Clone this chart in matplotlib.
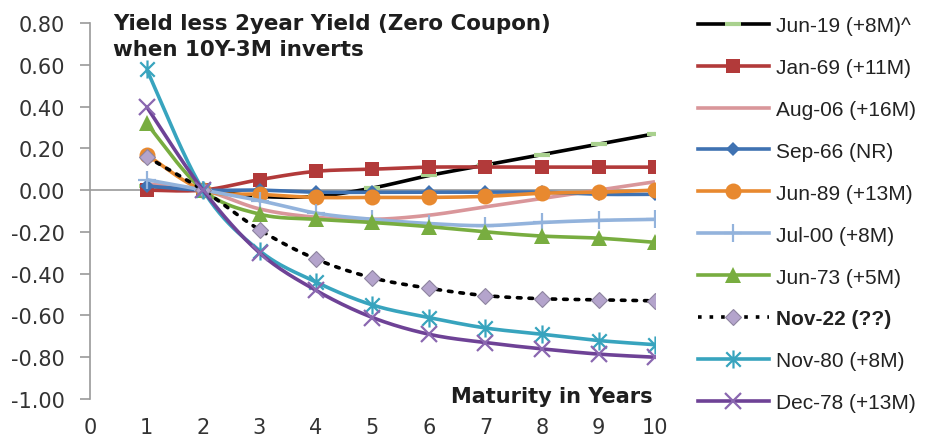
import numpy as np
import matplotlib
matplotlib.use("Agg")
import matplotlib.pyplot as plt
from matplotlib.path import Path

plt.rcParams['font.family'] = ['Liberation Sans', 'DejaVu Sans']

# Maturities (years) and spreads: yield less 2-year yield, zero coupon
maturity = [1, 2, 3, 4, 5, 6, 7, 8, 9, 10]

jun19 = [0.02, 0.00, -0.03, -0.03, 0.01, 0.07, 0.12, 0.17, 0.22, 0.27]
jan69 = [0.00, 0.00, 0.05, 0.09, 0.10, 0.11, 0.11, 0.11, 0.11, 0.11]
aug06 = [0.03, 0.00, -0.09, -0.13, -0.14, -0.12, -0.08, -0.04, 0.00, 0.04]
sep66 = [0.02, 0.00, 0.00, -0.01, -0.01, -0.01, -0.01, -0.01, -0.02, -0.02]
jun89 = [0.17, 0.00, -0.02, -0.035, -0.035, -0.035, -0.03, -0.015, -0.01, 0.00]
jul00 = [0.05, 0.00, -0.05, -0.11, -0.14, -0.16, -0.17, -0.155, -0.145, -0.14]
jun73 = [0.32, 0.00, -0.115, -0.14, -0.155, -0.175, -0.20, -0.22, -0.23, -0.25]
nov22 = [0.16, 0.00, -0.19, -0.33, -0.42, -0.47, -0.505, -0.52, -0.525, -0.53]
nov80 = [0.58, 0.00, -0.29, -0.44, -0.55, -0.61, -0.66, -0.69, -0.72, -0.74]
dec78 = [0.40, 0.00, -0.30, -0.48, -0.61, -0.69, -0.73, -0.76, -0.785, -0.80]

labels = ["Jun-19 (+8M)^", "Jan-69 (+11M)", "Aug-06 (+16M)", "Sep-66 (NR)",
          "Jun-89 (+13M)", "Jul-00 (+8M)", "Jun-73 (+5M)", "Nov-22 (??)",
          "Nov-80 (+8M)", "Dec-78 (+13M)"]
yticks = [0.8, 0.6, 0.4, 0.2, 0.0, -0.2, -0.4, -0.6, -0.8, -1.0]
xticks = list(range(0, 11))

# star marker: an X with a vertical bar through it
star = Path([(-1, -1), (1, 1), (-1, 1), (1, -1), (0, -1.25), (0, 1.25)],
            [Path.MOVETO, Path.LINETO, Path.MOVETO, Path.LINETO,
             Path.MOVETO, Path.LINETO])


def smooth(x, y, n=24):
    """Catmull-Rom style smoothed path through the points."""
    x = np.asarray(x, float)
    y = np.asarray(y, float)
    P = np.column_stack([x, y])
    Pe = np.vstack([P[0], P, P[-1]])
    out = []
    for i in range(len(P) - 1):
        p0, p1, p2, p3 = Pe[i], Pe[i + 1], Pe[i + 2], Pe[i + 3]
        c1 = p1 + (p2 - p0) / 6.0
        c2 = p2 - (p3 - p1) / 6.0
        t = np.linspace(0, 1, n, endpoint=(i == len(P) - 2))[:, None]
        seg = ((1 - t) ** 3) * p1 + 3 * ((1 - t) ** 2) * t * c1 + \
            3 * (1 - t) * t ** 2 * c2 + t ** 3 * p2
        out.append(seg)
    out = np.vstack(out)
    return out[:, 0], out[:, 1]


series = [
    (jun19, dict(color='black', lw=2.6, ls='-', marker='_', ms=11, mew=3,
                 mfc='#A9D18E', mec='#A9D18E')),
    (jan69, dict(color='#B23A3A', lw=2.6, ls='-', marker='s', ms=10.5, mew=0,
                 mfc='#B23A3A', mec='#B23A3A')),
    (aug06, dict(color='#D9969A', lw=2.6, ls='-', marker='None')),
    (sep66, dict(color='#3F72B2', lw=2.6, ls='-', marker='D', ms=7.5, mew=0,
                 mfc='#3F72B2', mec='#3F72B2')),
    (jun89, dict(color='#E8892F', lw=2.6, ls='-', marker='o', ms=11.5, mew=0,
                 mfc='#E8892F', mec='#E8892F')),
    (jul00, dict(color='#93B3DC', lw=2.6, ls='-', marker='+', ms=13, mew=1.6,
                 mfc='#93B3DC', mec='#93B3DC')),
    (jun73, dict(color='#78AD40', lw=2.6, ls='-', marker='^', ms=11, mew=0,
                 mfc='#78AD40', mec='#78AD40')),
    (nov22, dict(color='black', lw=2.6, ls=(0, (1, 2.2)), marker='D', ms=8,
                 mew=0.8, mfc='#B4A4CC', mec='#8E84A0')),
    (nov80, dict(color='#38A4BE', lw=2.6, ls='-', marker=star, ms=13, mew=1.6,
                 mfc='#38A4BE', mec='#38A4BE')),
    (dec78, dict(color='#6E4296', lw=2.6, ls='-', marker='x', ms=11, mew=1.6,
                 mfc='#8A67B0', mec='#8A67B0')),
]

fig = plt.figure(figsize=(9.43, 4.39), dpi=100)
ax = fig.add_axes([90 / 943, 1 - 400 / 439, 565 / 943, 376 / 439])

handles = []
for (vals, st), lab in zip(series, labels):
    sx, sy = smooth(maturity, vals)
    ax.plot(sx, sy, color=st['color'], lw=st['lw'], ls=st['ls'],
            solid_capstyle='butt', dash_capstyle='round')
    mk = st.get('marker', 'None')
    if mk != 'None':
        ax.plot(maturity, vals, ls='None', marker=mk, ms=st['ms'],
                mew=st['mew'], mfc=st['mfc'], mec=st['mec'])
        h, = ax.plot([], [], color=st['color'], lw=st['lw'], ls=st['ls'],
                     marker=mk, ms=st['ms'], mew=st['mew'], mfc=st['mfc'],
                     mec=st['mec'], label=lab)
    else:
        h, = ax.plot([], [], color=st['color'], lw=st['lw'], ls=st['ls'],
                     label=lab)
    handles.append(h)

ax.axhline(0, color='#9A9A9A', lw=1.2, zorder=0.5)

ax.set_xlim(0, 10)
ax.set_ylim(-1.0, 0.8)
ax.set_yticks(yticks)
ax.set_yticklabels([f"{v:.2f}" for v in yticks])
ax.set_xticks(xticks)
ax.set_xticklabels([str(v) for v in xticks])

for s in ['top', 'right', 'bottom']:
    ax.spines[s].set_visible(False)
ax.spines['left'].set_color('#9A9A9A')
ax.spines['left'].set_linewidth(1.2)

ax.tick_params(axis='y', direction='out', length=7, width=1.2,
               color='#9A9A9A', pad=11, labelsize=15, labelcolor='#333333')
ax.tick_params(axis='x', length=0, pad=13, labelsize=15,
               labelcolor='#333333')
for t in ax.get_xticklabels() + ax.get_yticklabels():
    t.set_family('DejaVu Sans')

bold = dict(fontweight='bold', color='#1E1E1E', family='DejaVu Sans')
fig.text(113 / 943, 1 - 29.5 / 439, "Yield less 2year Yield (Zero Coupon)",
         ha='left', va='baseline', fontsize=15.4, **bold)
fig.text(113 / 943, 1 - 55.5 / 439, "when 10Y-3M inverts",
         ha='left', va='baseline', fontsize=15.4, **bold)
fig.text(653 / 943, 1 - 403 / 439, "Maturity in Years", ha='right',
         va='baseline', fontsize=15, **bold)

leg = fig.legend(handles=handles, loc='upper left',
                 bbox_to_anchor=(698 / 943, 1 - 17 / 439),
                 frameon=False, fontsize=15, numpoints=1,
                 handlelength=3.4, handletextpad=0.35, labelspacing=1.1,
                 borderpad=0, borderaxespad=0)
for t in leg.get_texts():
    t.set_color('#222222')
    if t.get_text().startswith('Nov-22'):
        t.set_fontweight('bold')

fig.savefig('out.png', dpi=100)
